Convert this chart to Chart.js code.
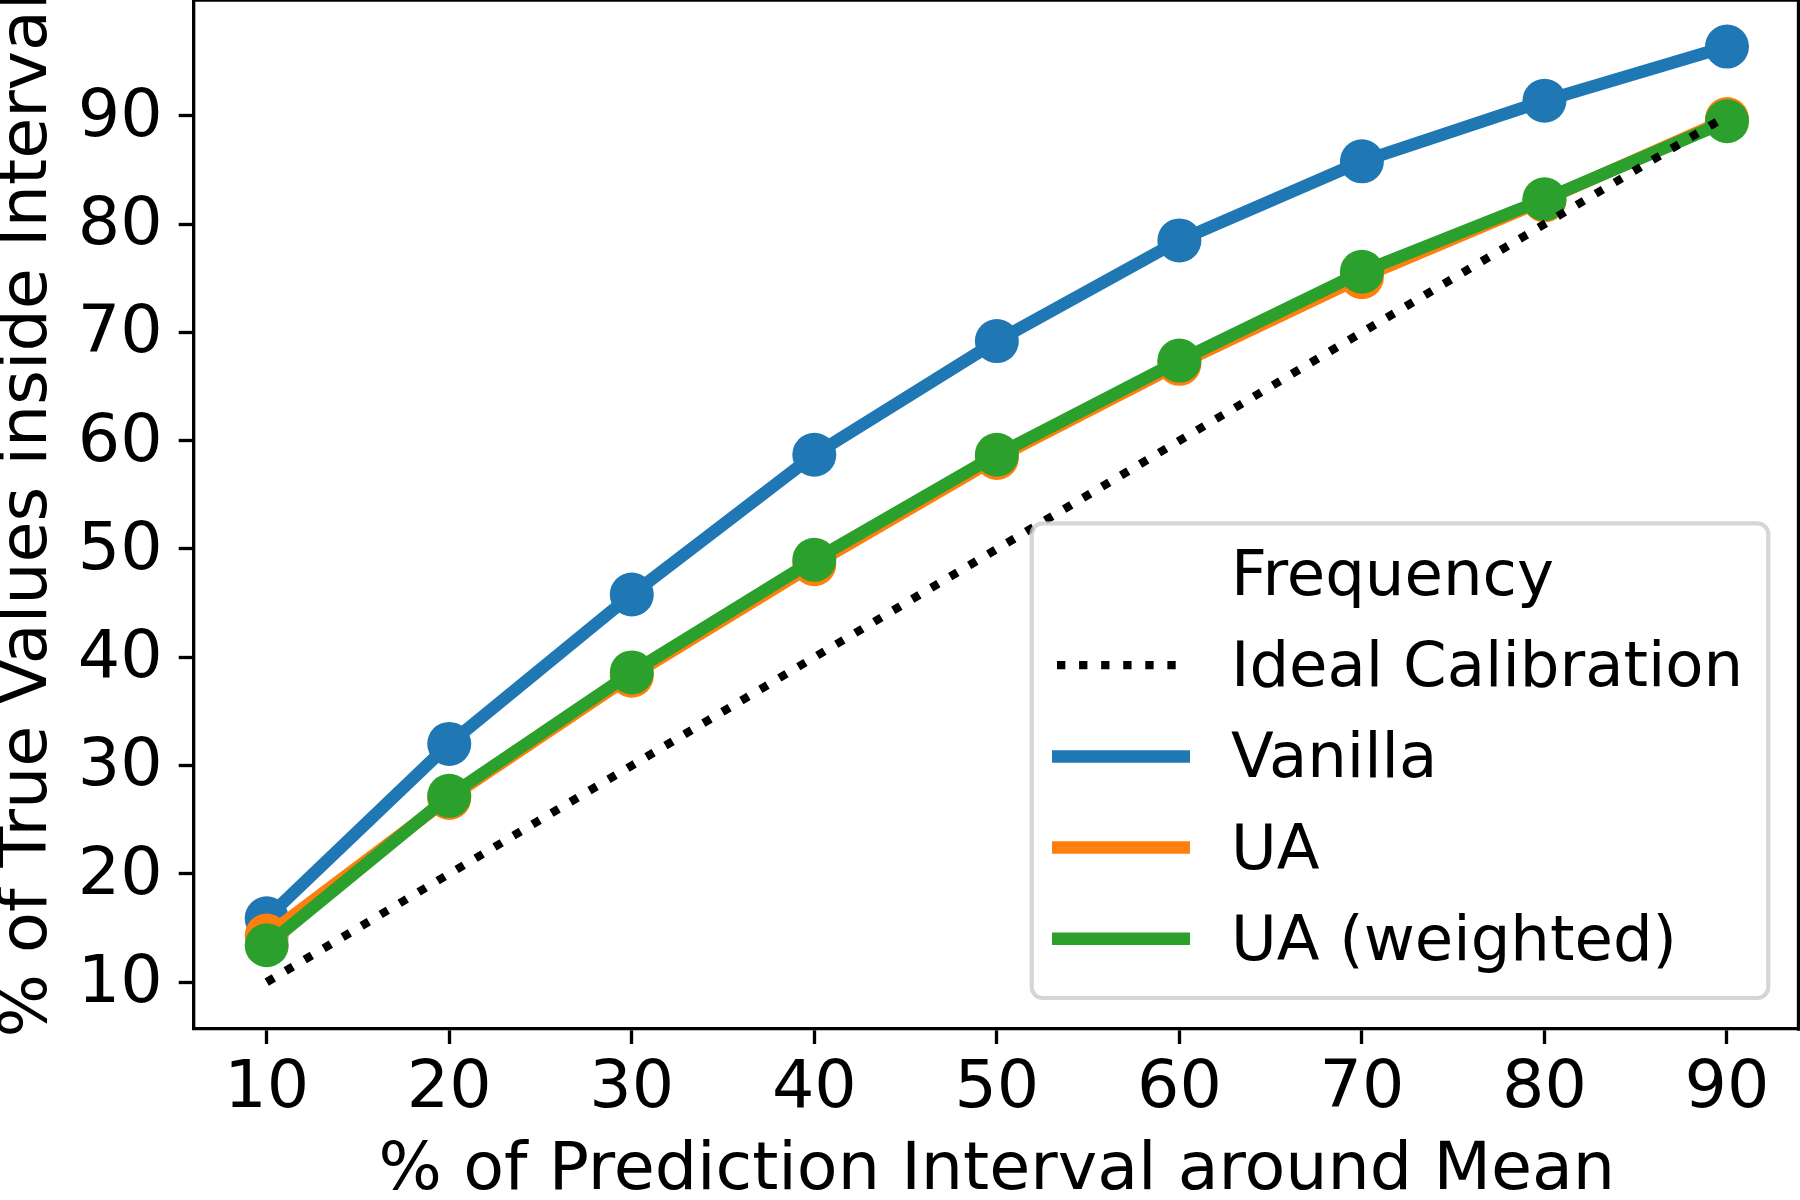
<!DOCTYPE html>
<html><head><meta charset="utf-8">
<script src="https://cdn.jsdelivr.net/npm/chart.js@4.4.1/dist/chart.umd.min.js"></script>
<style>html,body{margin:0;padding:0;background:#fff;overflow:hidden}canvas{display:block}</style>
</head><body>
<canvas id="c" width="1800" height="1200" style="width:1800px;height:1200px"></canvas>
<script>
// ---- data ----
const intervals = [10, 20, 30, 40, 50, 60, 70, 80, 90];
const idealValues = [10, 20, 30, 40, 50, 60, 70, 80, 90];
const vanillaValues = [15.9, 32.0, 45.8, 58.7, 69.2, 78.5, 85.8, 91.4, 96.4];
const uaValues = [14.3, 27.0, 38.3, 48.6, 58.4, 67.1, 75.1, 82.2, 89.7];
const uaWeightedValues = [13.4, 27.2, 38.6, 49.0, 58.7, 67.4, 75.6, 82.3, 89.5];
const xTickValues = [10, 20, 30, 40, 50, 60, 70, 80, 90];
const yTickValues = [10, 20, 30, 40, 50, 60, 70, 80, 90];
const legendTitle = 'Frequency';
const labelIdeal = 'Ideal Calibration';
const labelVanilla = 'Vanilla';
const labelUA = 'UA';
const labelUAW = 'UA (weighted)';
const xTitle = '% of Prediction Interval around Mean';
const yTitle = '% of True Values inside Interval';

// ---- style ----
const FS = 66.7;
const LEG_FS = 62.5;
const FONT = 'DejaVu Sans';
const LW = 12.5;
const DOT_LW = 8.33;
const SPINE = 3.33;
const pts = vals => intervals.map((x, i) => ({x: x, y: vals[i]}));

Chart.defaults.font.family = FONT;
Chart.defaults.color = '#000';

const datasets = [
  {label: labelIdeal, data: pts(idealValues), borderColor: '#000', backgroundColor: '#000',
   borderWidth: DOT_LW, borderDash: [DOT_LW, DOT_LW * 1.65], borderCapStyle: 'butt',
   pointRadius: 0, order: 0},
  {label: labelVanilla, data: pts(vanillaValues), borderColor: '#1f77b4', backgroundColor: '#1f77b4',
   borderWidth: LW, borderJoinStyle: 'round', borderCapStyle: 'round',
   pointRadius: 22, pointBorderWidth: 0, pointBackgroundColor: '#1f77b4', order: 3},
  {label: labelUA, data: pts(uaValues), borderColor: '#ff7f0e', backgroundColor: '#ff7f0e',
   borderWidth: LW, borderJoinStyle: 'round', borderCapStyle: 'round',
   pointRadius: 22, pointBorderWidth: 0, pointBackgroundColor: '#ff7f0e', order: 2},
  {label: labelUAW, data: pts(uaWeightedValues), borderColor: '#2ca02c', backgroundColor: '#2ca02c',
   borderWidth: LW, borderJoinStyle: 'round', borderCapStyle: 'round',
   pointRadius: 22, pointBorderWidth: 0, pointBackgroundColor: '#2ca02c', order: 1}
];

const framePlugin = {
  id: 'frame',
  afterDraw(chart) {
    const {ctx, chartArea: a} = chart;
    ctx.save();
    ctx.strokeStyle = '#000';
    ctx.lineWidth = SPINE;
    ctx.lineCap = 'square';
    ctx.beginPath();
    ctx.moveTo(a.left, a.top); ctx.lineTo(a.right - 1.5, a.top); ctx.lineTo(a.right - 1.5, a.bottom);
    ctx.stroke();
    ctx.restore();
  }
};

function roundRect(ctx, x, y, w, h, r) {
  ctx.beginPath();
  ctx.moveTo(x + r, y);
  ctx.lineTo(x + w - r, y); ctx.arcTo(x + w, y, x + w, y + r, r);
  ctx.lineTo(x + w, y + h - r); ctx.arcTo(x + w, y + h, x + w - r, y + h, r);
  ctx.lineTo(x + r, y + h); ctx.arcTo(x, y + h, x, y + h - r, r);
  ctx.lineTo(x, y + r); ctx.arcTo(x, y, x + r, y, r);
  ctx.closePath();
}

const legendPlugin = {
  id: 'boxLegend',
  afterDraw(chart) {
    const ctx = chart.ctx;
    const bx = 1031.7, by = 523.3, bw = 736.6, bh = 474.7;
    ctx.save();
    roundRect(ctx, bx, by, bw, bh, 11);
    ctx.fillStyle = 'rgba(255,255,255,0.8)';
    ctx.fill();
    ctx.strokeStyle = 'rgba(204,204,204,0.8)';
    ctx.lineWidth = 4.2;
    ctx.stroke();
    const rowH = 91.2;
    const firstBase = 595;
    const textX = 1231;
    const hx0 = 1052, hx1 = 1190;
    ctx.font = LEG_FS + 'px "' + FONT + '"';
    ctx.fillStyle = '#000';
    ctx.textAlign = 'left';
    ctx.textBaseline = 'alphabetic';
    ctx.fillText(legendTitle, textX, firstBase);
    chart.data.datasets.forEach((ds, i) => {
      const base = firstBase + rowH * (i + 1);
      const cy = base - 21;
      ctx.save();
      ctx.strokeStyle = ds.borderColor;
      ctx.lineWidth = ds.borderWidth;
      ctx.lineCap = 'butt';
      if (ds.borderDash) {
        ctx.setLineDash(ds.borderDash);
        ctx.beginPath(); ctx.moveTo(1057, cy); ctx.lineTo(hx1 - 4, cy); ctx.stroke();
      } else {
        ctx.beginPath(); ctx.moveTo(hx0, cy); ctx.lineTo(hx1, cy); ctx.stroke();
      }
      ctx.restore();
      ctx.fillText(ds.label, textX, base);
    });
    ctx.restore();
  }
};

new Chart(document.getElementById('c'), {
  type: 'line',
  data: {datasets: datasets},
  options: {
    responsive: false,
    animation: false,
    devicePixelRatio: 1,
    layout: {autoPadding: false, padding: {top: 0, right: 0, left: 0, bottom: 0}},
    plugins: {legend: {display: false}, tooltip: {enabled: false}},
    scales: {
      x: {
        type: 'linear', min: 6, max: 94,
        afterBuildTicks: s => { s.ticks = xTickValues.map(v => ({value: v})); },
        afterFit: s => { s.height = 171; s.paddingLeft = 0; s.paddingRight = 0; s.paddingTop = 0; s.paddingBottom = 0; },
        grid: {drawOnChartArea: false, drawTicks: true, tickLength: 15, tickWidth: SPINE, tickColor: '#000'},
        border: {display: true, color: '#000', width: SPINE},
        ticks: {font: {size: FS}, color: '#000', padding: 6, maxRotation: 0, autoSkip: false},
        title: {display: true, text: xTitle, font: {size: FS, lineHeight: 0.8}, color: '#000', padding: {top: 0, bottom: 1.3}}
      },
      y: {
        type: 'linear', min: 5.67, max: 100.7,
        afterBuildTicks: s => { s.ticks = yTickValues.map(v => ({value: v})); },
        afterFit: s => { s.width = 193.7; s.paddingLeft = 0; s.paddingRight = 0; s.paddingTop = 0; s.paddingBottom = 0; },
        grid: {drawOnChartArea: false, drawTicks: true, tickLength: 15, tickWidth: SPINE, tickColor: '#000'},
        border: {display: true, color: '#000', width: SPINE},
        ticks: {font: {size: FS}, color: '#000', padding: 16, labelOffset: 2.5, autoSkip: false},
        title: {display: true, text: yTitle, font: {size: FS, lineHeight: 0.8}, color: '#000', padding: {top: 2, bottom: 0}}
      }
    }
  },
  plugins: [framePlugin, legendPlugin]
});
</script>
</body></html>
